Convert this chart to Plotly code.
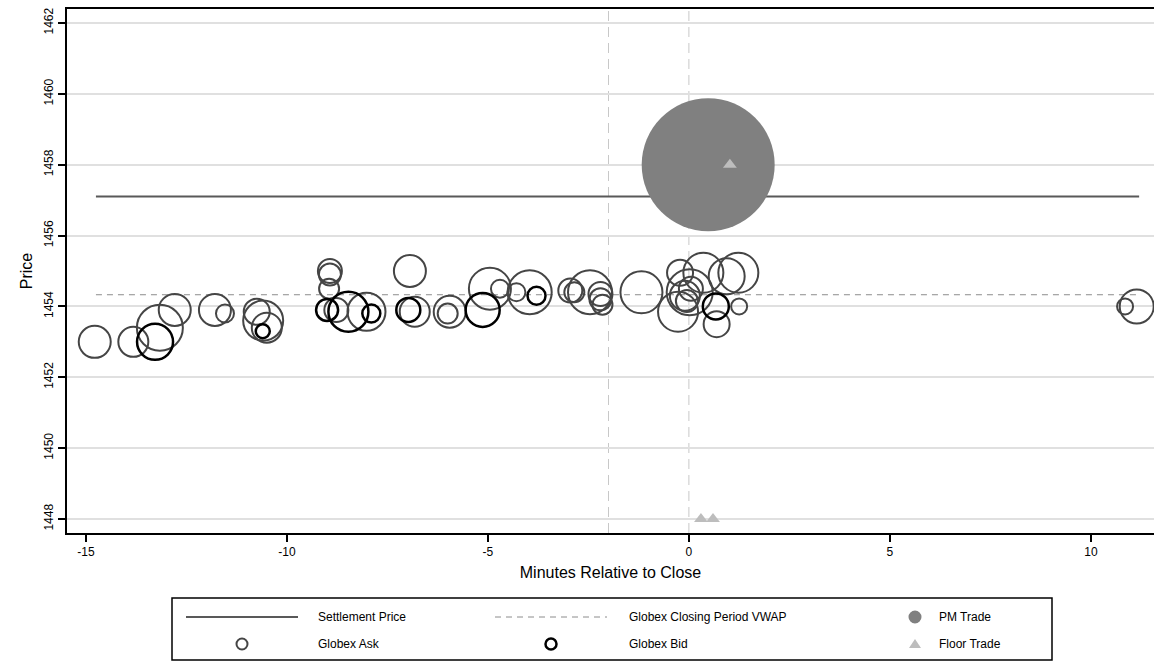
import plotly.graph_objects as go

# ---- axis ticks -------------------------------------------------------------
x_ticks = [-15, -10, -5, 0, 5, 10]
x_tick_labels = ["-15", "-10", "-5", "0", "5", "10"]
y_ticks = [1448, 1450, 1452, 1454, 1456, 1458, 1460, 1462]
y_tick_labels = [str(v) for v in y_ticks]

# ---- reference levels -------------------------------------------------------
settlement_price = 1457.1
closing_vwap = 1454.33
session_window = [-14.75, 11.2]          # minutes covered by the reference lines
closing_period = [-2.0, 0.0]             # start of closing period, close

# ---- Globex ask quotes (minutes, price, contracts) -------------------------
ask_minutes = [-14.78, -13.82, -13.16, -12.79, -11.79, -11.54, -10.75, -10.59,
               -10.50, -8.93, -8.93, -8.95, -8.77, -8.02, -6.94, -6.82,
               -5.95, -6.00, -4.95, -4.70, -4.29, -3.96, -2.95, -2.85,
               -2.46, -2.20, -2.20, -2.15, -1.18, -0.22, -0.27, 0.02,
               -0.10, 0.05, -0.05, 0.36, 0.94, 1.23, 0.69, 1.25,
               10.85, 11.14]
ask_price = [1453.00, 1453.00, 1453.40, 1453.90, 1453.90, 1453.80, 1453.85, 1453.60,
             1453.40, 1455.00, 1454.90, 1454.50, 1453.90, 1453.85, 1455.00, 1453.85,
             1453.85, 1453.80, 1454.50, 1454.50, 1454.40, 1454.40, 1454.45, 1454.40,
             1454.40, 1454.35, 1454.20, 1454.05, 1454.40, 1454.95, 1453.85, 1454.40,
             1454.30, 1454.50, 1454.15, 1454.95, 1454.85, 1454.95, 1453.50, 1454.00,
             1454.00, 1454.00]
ask_contracts = [256, 225, 529, 256, 256, 81, 169, 400,
                 225, 144, 121, 100, 144, 361, 256, 225,
                 256, 100, 441, 81, 81, 484, 144, 100,
                 484, 144, 121, 100, 441, 169, 400, 529,
                 225, 144, 121, 400, 324, 400, 169, 64,
                 64, 289]

# ---- Globex bid quotes ------------------------------------------------------
bid_minutes = [-13.28, -10.60, -9.00, -8.47, -7.90, -6.98, -5.13, -3.79, 0.67]
bid_price = [1453.00, 1453.30, 1453.90, 1453.85, 1453.80, 1453.90, 1453.90, 1454.30, 1454.00]
bid_contracts = [324, 49, 121, 400, 81, 144, 289, 81, 169]

# ---- pit trades -------------------------------------------------------------
pm_minutes = [0.48]
pm_price = [1458.0]
pm_contracts = [4422]

floor_minutes = [1.02, 0.30, 0.60]
floor_price = [1458.0, 1448.0, 1448.0]

# ---- styling ----------------------------------------------------------------
FONT = "Liberation Sans, Arial, sans-serif"
ASK_COLOR = "#454545"
BID_COLOR = "#000000"
PM_COLOR = "#808080"
FLOOR_COLOR = "#bdbdbd"
SETTLE_COLOR = "#595959"
VWAP_COLOR = "#8c8c8c"
GRID_COLOR = "#e0e0e0"

W, H = 1154, 663
M_L, M_R, M_T, M_B = 67, 0, 9, 130
PLOT_W = W - M_L - M_R
PLOT_H = H - M_T - M_B

BUBBLE_REF = 0.5   # area-mode scale: radius in px = sqrt(contracts)

fig = go.Figure()

# horizontal reference lines
fig.add_trace(go.Scatter(
    x=session_window, y=[settlement_price] * 2, mode="lines",
    line=dict(color=SETTLE_COLOR, width=2), hoverinfo="skip", showlegend=False))
fig.add_trace(go.Scatter(
    x=session_window, y=[closing_vwap] * 2, mode="lines",
    line=dict(color=VWAP_COLOR, width=1, dash="6px,5px"), hoverinfo="skip",
    showlegend=False))

# quotes
fig.add_trace(go.Scatter(
    x=ask_minutes, y=ask_price, mode="markers", name="Globex Ask",
    marker=dict(symbol="circle-open", size=ask_contracts, sizemode="area",
                sizeref=BUBBLE_REF, color=ASK_COLOR, opacity=1, line=dict(width=2)),
    showlegend=False))
fig.add_trace(go.Scatter(
    x=bid_minutes, y=bid_price, mode="markers", name="Globex Bid",
    marker=dict(symbol="circle-open", size=bid_contracts, sizemode="area",
                sizeref=BUBBLE_REF, color=BID_COLOR, opacity=1, line=dict(width=2.5)),
    showlegend=False))

# trades
fig.add_trace(go.Scatter(
    x=pm_minutes, y=pm_price, mode="markers", name="PM Trade",
    marker=dict(symbol="circle", size=pm_contracts, sizemode="area",
                sizeref=BUBBLE_REF, color=PM_COLOR, opacity=1, line=dict(width=0)),
    showlegend=False))
fig.add_trace(go.Scatter(
    x=floor_minutes, y=floor_price, mode="markers", name="Floor Trade",
    marker=dict(symbol="triangle-up", size=12, color=FLOOR_COLOR, opacity=1,
                line=dict(width=0)),
    showlegend=False))

# vertical markers for the closing period
for xv in closing_period:
    fig.add_shape(type="line", xref="x", yref="paper", x0=xv, x1=xv, y0=0, y1=1,
                  line=dict(color="#c8c8c8", width=1, dash="10px,6px"), layer="below")


# ---- legend box drawn under the axis ---------------------------------------
def px_x(p):
    return (p - M_L) / PLOT_W


def px_y(p):
    return (M_T + PLOT_H - p) / PLOT_H


LEG_L, LEG_R, LEG_T, LEG_B = 172, 1052, 598, 660
ROW1, ROW2 = 617, 644
fig.add_shape(type="rect", xref="paper", yref="paper",
              x0=px_x(LEG_L), x1=px_x(LEG_R), y0=px_y(LEG_B), y1=px_y(LEG_T),
              line=dict(color="#000000", width=1.5), fillcolor="white", layer="above")

col_sym = [242, 551, 915]
col_lab = [316, 627, 937]

# line keys
fig.add_shape(type="line", xref="paper", yref="paper",
              x0=px_x(186), x1=px_x(298), y0=px_y(ROW1), y1=px_y(ROW1),
              line=dict(color=SETTLE_COLOR, width=2))
fig.add_shape(type="line", xref="paper", yref="paper",
              x0=px_x(495), x1=px_x(607), y0=px_y(ROW1), y1=px_y(ROW1),
              line=dict(color=VWAP_COLOR, width=1, dash="6px,5px"))


def circle_key(cx, cy, r, color, fill, width):
    fig.add_shape(type="circle", xref="paper", yref="paper",
                  xsizemode="pixel", ysizemode="pixel",
                  xanchor=px_x(cx), yanchor=px_y(cy),
                  x0=-r, x1=r, y0=-r, y1=r,
                  line=dict(color=color, width=width), fillcolor=fill)


circle_key(col_sym[2], ROW1, 6.5, PM_COLOR, PM_COLOR, 0)
circle_key(col_sym[0], ROW2, 5.5, ASK_COLOR, "rgba(0,0,0,0)", 2)
circle_key(col_sym[1], ROW2, 5.5, BID_COLOR, "rgba(0,0,0,0)", 2.5)
fig.add_shape(type="path", xref="paper", yref="paper",
              xsizemode="pixel", ysizemode="pixel",
              xanchor=px_x(col_sym[2]), yanchor=px_y(ROW2),
              path="M-6,-4 L6,-4 L0,5 Z", fillcolor=FLOOR_COLOR, line=dict(width=0))

labels = [("Settlement Price", col_lab[0], ROW1),
          ("Globex Closing Period VWAP", col_lab[1], ROW1),
          ("PM Trade", col_lab[2], ROW1),
          ("Globex Ask", col_lab[0], ROW2),
          ("Globex Bid", col_lab[1], ROW2),
          ("Floor Trade", col_lab[2], ROW2)]
for text, lx, ly in labels:
    fig.add_annotation(text=text, xref="paper", yref="paper", x=px_x(lx), y=px_y(ly),
                       xanchor="left", yanchor="middle", showarrow=False,
                       font=dict(family=FONT, size=12, color="#000000"))

fig.update_layout(
    width=W, height=H,
    margin=dict(l=M_L, r=M_R, t=M_T, b=M_B, pad=0),
    paper_bgcolor="white", plot_bgcolor="white",
    font=dict(family=FONT, size=12, color="#000000"),
    showlegend=False,
)
fig.update_xaxes(
    range=[-15.47, 11.57], tickvals=x_ticks, ticktext=x_tick_labels,
    ticks="outside", ticklen=7, tickwidth=2, tickcolor="#000000",
    showgrid=False, zeroline=False,
    showline=True, linecolor="#000000", linewidth=2, mirror=True,
    title=dict(text="Minutes Relative to Close", font=dict(size=16), standoff=8),
    tickfont=dict(size=12))
fig.update_yaxes(
    range=[1447.605, 1462.395], tickvals=y_ticks, ticktext=y_tick_labels,
    ticks="outside", ticklen=7, tickwidth=2, tickcolor="#000000",
    showgrid=True, gridcolor=GRID_COLOR, gridwidth=2, zeroline=False, tickangle=-90,
    showline=True, linecolor="#000000", linewidth=2, mirror=False,
    title=dict(text="Price", font=dict(size=16), standoff=6),
    tickfont=dict(size=12))

fig.write_html("out.html")
